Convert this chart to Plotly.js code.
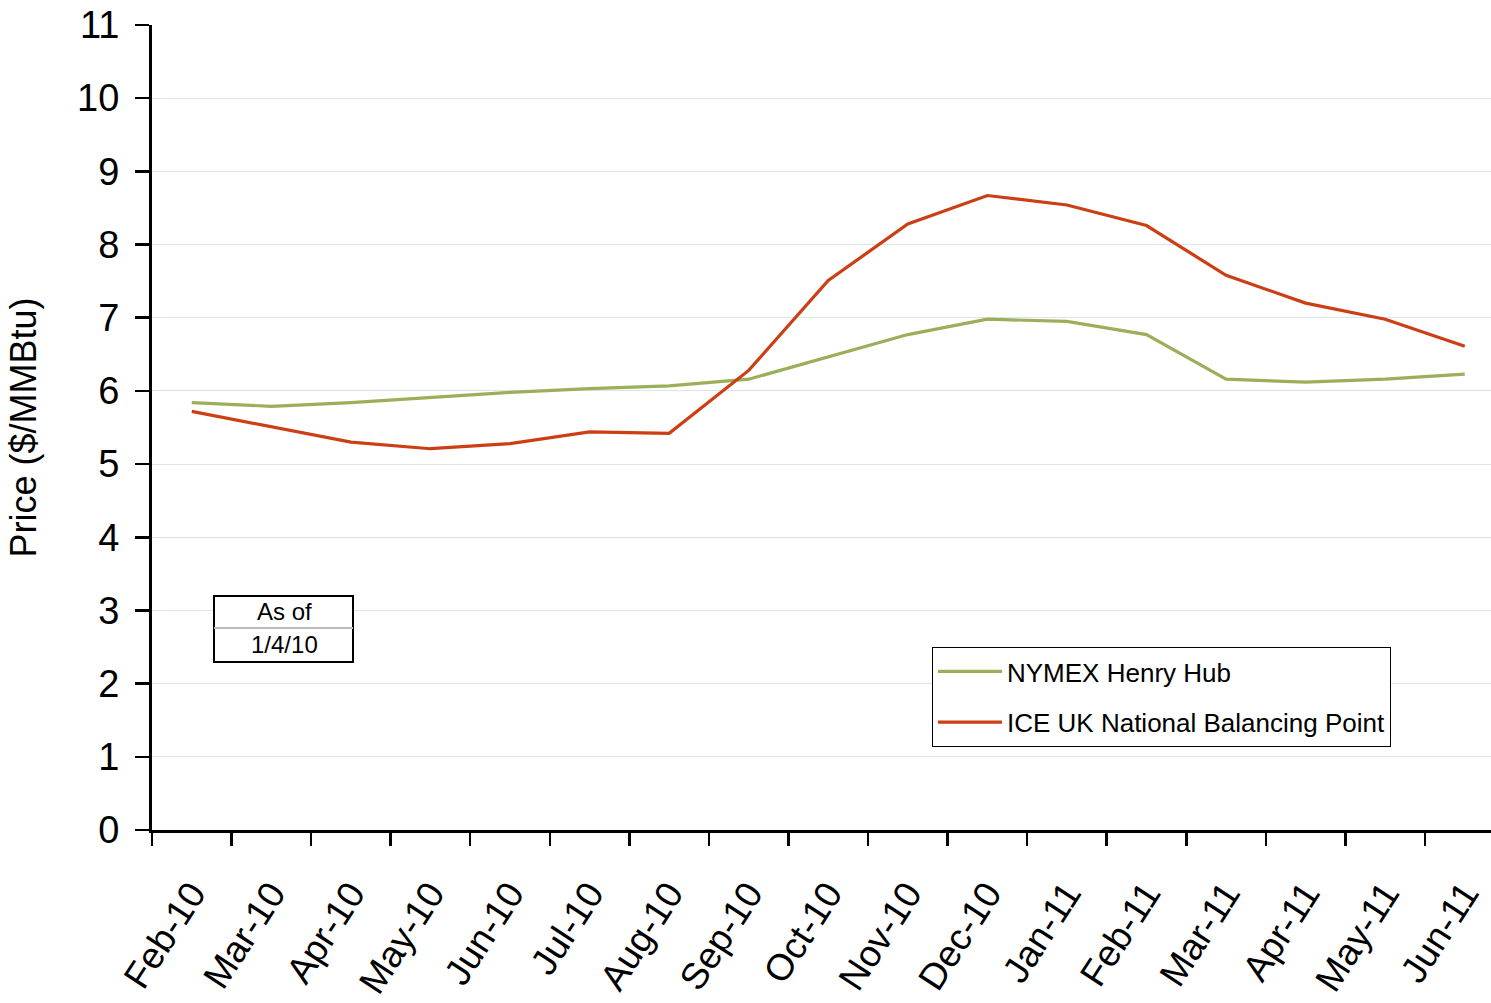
<!DOCTYPE html>
<html>
<head>
<meta charset="utf-8">
<script src="https://cdn.plot.ly/plotly-3.0.1.min.js"></script>
<style>html,body{margin:0;padding:0;background:#fff;}#chart{width:1491px;height:1003px;}</style>
</head>
<body>
<div id="chart"></div>
<script>
const months = ["Feb-10","Mar-10","Apr-10","May-10","Jun-10","Jul-10","Aug-10","Sep-10","Oct-10","Nov-10","Dec-10","Jan-11","Feb-11","Mar-11","Apr-11","May-11","Jun-11"];
const henryHub = [5.84, 5.79, 5.84, 5.91, 5.98, 6.03, 6.07, 6.16, 6.46, 6.77, 6.98, 6.95, 6.77, 6.16, 6.12, 6.16, 6.23];
const nbp = [5.72, 5.51, 5.30, 5.21, 5.28, 5.44, 5.42, 6.28, 7.51, 8.28, 8.67, 8.54, 8.26, 7.58, 7.20, 6.98, 6.61];
const seriesNames = ["NYMEX Henry Hub", "ICE UK National Balancing Point"];
const yTicks = [0,1,2,3,4,5,6,7,8,9,10,11];
const noteLines = ["As of", "1/4/10"];

const FONT = "Liberation Sans, Arial, sans-serif";
const traces = [
  {x: months, y: henryHub, name: seriesNames[0], type: "scatter", mode: "lines",
   line: {color: "#9BAF5A", width: 3.2}, legendgroup: "a"},
  {x: months, y: nbp, name: seriesNames[1], type: "scatter", mode: "lines",
   line: {color: "#CC3E14", width: 3.2}, legendgroup: "b"}
];

const L = 152, T = 25, W = 1491, H = 1003, B = 173;
const pw = W - L, ph = H - T - B;
const px = v => (v - L) / pw;
const py = v => (H - B - v) / ph;

const layout = {
  width: W, height: H,
  margin: {l: L, r: 0, t: T, b: B, pad: 0},
  paper_bgcolor: "#fff", plot_bgcolor: "#fff",
  font: {family: FONT, color: "#000"},
  showlegend: true,
  legend: {
    x: px(932), y: py(647), xanchor: "left", yanchor: "top",
    bordercolor: "#000", borderwidth: 1, bgcolor: "#fff",
    font: {family: FONT, size: 26, color: "#000"},
    tracegroupgap: 14, traceorder: "grouped", itemwidth: 64
  },
  xaxis: {
    type: "category", range: [-0.5, 16.33],
    tickson: "boundaries", ticks: "outside", ticklen: 13, tickwidth: 2.5, tickcolor: "#000",
    showline: true, linecolor: "#000", linewidth: 3,
    showgrid: false, zeroline: false, ticklabelstandoff: 24,
    tickangle: -57, tickfont: {family: FONT, size: 37, color: "#000"}
  },
  yaxis: {
    range: [0, 11], tickvals: yTicks, ticktext: yTicks.map(String),
    ticks: "outside", ticklen: 14, tickwidth: 2.5, tickcolor: "#000",
    showline: true, linecolor: "#000", linewidth: 3,
    showgrid: true, gridcolor: "#D9E5E9", gridwidth: 1, zeroline: false,
    ticklabelstandoff: 8,
    tickfont: {family: FONT, size: 38, color: "#000"},
    title: {text: "Price ($/MMBtu)", font: {family: FONT, size: 36, color: "#000"}, standoff: 30}
  },
  shapes: [
    {type: "rect", xref: "paper", yref: "paper", x0: px(214), x1: px(353), y0: py(662), y1: py(596),
     line: {color: "#000", width: 2}, fillcolor: "#fff", layer: "above"},
    {type: "line", xref: "paper", yref: "paper", x0: px(214), x1: px(353), y0: py(628), y1: py(628),
     line: {color: "#BBBBBB", width: 2}, layer: "above"}
  ],
  annotations: [
    {xref: "paper", yref: "paper", x: px(284), y: py(611), text: noteLines[0], showarrow: false,
     font: {family: FONT, size: 24, color: "#000"}, xanchor: "center", yanchor: "middle"},
    {xref: "paper", yref: "paper", x: px(284), y: py(644), text: noteLines[1], showarrow: false,
     font: {family: FONT, size: 24, color: "#000"}, xanchor: "center", yanchor: "middle"}
  ]
};

Plotly.newPlot("chart", traces, layout, {displayModeBar: false, staticPlot: true});
</script>
</body>
</html>
